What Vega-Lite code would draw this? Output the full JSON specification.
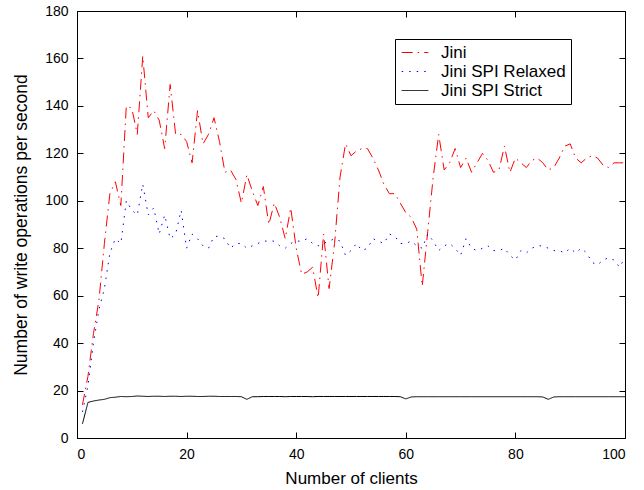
{
"$schema": "https://vega.github.io/schema/vega-lite/v6.json",
"width": 548, "height": 427,
"autosize": {"type": "none"},
"padding": {"left": 77, "top": 11, "right": 19, "bottom": 52},
"background": "white",
"config": {
  "font": "Liberation Sans",
  "view": {"stroke": null},
  "axis": {"grid": false, "domainColor": "black", "domainWidth": 1, "tickColor": "black", "tickWidth": 1, "tickSize": -6, "labelColor": "black", "labelFontSize": 14, "titleColor": "black", "titleFontWeight": "normal", "labelPadding": 15}
},
"data": {"values": [
{"clients":1,"jini":14,"relaxed":11,"strict":6},
{"clients":2,"jini":26,"relaxed":22,"strict":15},
{"clients":3,"jini":44,"relaxed":40,"strict":15.6},
{"clients":4,"jini":58,"relaxed":54,"strict":16},
{"clients":5,"jini":82,"relaxed":63,"strict":16.3},
{"clients":6,"jini":103,"relaxed":78,"strict":17},
{"clients":7,"jini":108,"relaxed":84,"strict":17.2},
{"clients":8,"jini":98,"relaxed":82,"strict":17.5},
{"clients":9,"jini":140,"relaxed":100,"strict":17.4},
{"clients":10,"jini":139,"relaxed":96,"strict":17.5},
{"clients":11,"jini":128,"relaxed":94,"strict":17.7},
{"clients":12,"jini":161,"relaxed":107,"strict":17.6},
{"clients":13,"jini":135,"relaxed":94,"strict":17.5},
{"clients":14,"jini":138,"relaxed":97,"strict":17.6},
{"clients":15,"jini":134,"relaxed":86,"strict":17.6},
{"clients":16,"jini":122,"relaxed":94,"strict":17.5},
{"clients":17,"jini":149,"relaxed":84,"strict":17.6},
{"clients":18,"jini":128,"relaxed":86,"strict":17.6},
{"clients":19,"jini":128,"relaxed":96,"strict":17.5},
{"clients":20,"jini":125,"relaxed":80,"strict":17.6},
{"clients":21,"jini":116,"relaxed":86,"strict":17.6},
{"clients":22,"jini":138,"relaxed":84,"strict":17.5},
{"clients":23,"jini":124,"relaxed":81,"strict":17.5},
{"clients":24,"jini":128,"relaxed":80,"strict":17.6},
{"clients":25,"jini":135,"relaxed":85,"strict":17.6},
{"clients":26,"jini":125,"relaxed":85,"strict":17.5},
{"clients":27,"jini":112,"relaxed":84,"strict":17.5},
{"clients":28,"jini":113,"relaxed":80,"strict":17.5},
{"clients":29,"jini":109,"relaxed":82,"strict":17.5},
{"clients":30,"jini":99,"relaxed":82,"strict":17.4},
{"clients":31,"jini":111,"relaxed":80,"strict":16.3},
{"clients":32,"jini":104,"relaxed":81,"strict":17.4},
{"clients":33,"jini":98,"relaxed":82,"strict":17.4},
{"clients":34,"jini":106,"relaxed":83,"strict":17.5},
{"clients":35,"jini":90,"relaxed":83,"strict":17.5},
{"clients":36,"jini":99,"relaxed":83,"strict":17.5},
{"clients":37,"jini":93,"relaxed":81,"strict":17.5},
{"clients":38,"jini":84,"relaxed":80,"strict":17.4},
{"clients":39,"jini":97,"relaxed":82,"strict":17.5},
{"clients":40,"jini":80,"relaxed":83,"strict":17.5},
{"clients":41,"jini":69,"relaxed":83,"strict":17.5},
{"clients":42,"jini":70,"relaxed":84,"strict":17.5},
{"clients":43,"jini":72,"relaxed":82,"strict":17.4},
{"clients":44,"jini":59,"relaxed":81,"strict":17.5},
{"clients":45,"jini":86,"relaxed":82,"strict":17.5},
{"clients":46,"jini":63,"relaxed":83,"strict":17.5},
{"clients":47,"jini":82,"relaxed":84,"strict":17.5},
{"clients":48,"jini":110,"relaxed":83,"strict":17.5},
{"clients":49,"jini":124,"relaxed":77,"strict":17.5},
{"clients":50,"jini":119,"relaxed":79,"strict":17.5},
{"clients":51,"jini":121,"relaxed":82,"strict":17.5},
{"clients":52,"jini":122,"relaxed":79,"strict":17.5},
{"clients":53,"jini":122,"relaxed":80,"strict":17.5},
{"clients":54,"jini":118,"relaxed":84,"strict":17.5},
{"clients":55,"jini":113,"relaxed":83,"strict":17.5},
{"clients":56,"jini":107,"relaxed":82,"strict":17.5},
{"clients":57,"jini":103,"relaxed":86,"strict":17.5},
{"clients":58,"jini":103,"relaxed":85,"strict":17.5},
{"clients":59,"jini":99,"relaxed":82,"strict":17.4},
{"clients":60,"jini":95,"relaxed":82,"strict":16.5},
{"clients":61,"jini":93,"relaxed":83,"strict":17.3},
{"clients":62,"jini":88,"relaxed":81,"strict":17.4},
{"clients":63,"jini":64,"relaxed":80,"strict":17.4},
{"clients":64,"jini":87,"relaxed":86,"strict":17.4},
{"clients":65,"jini":110,"relaxed":83,"strict":17.4},
{"clients":66,"jini":128,"relaxed":79,"strict":17.4},
{"clients":67,"jini":113,"relaxed":81,"strict":17.4},
{"clients":68,"jini":116,"relaxed":82,"strict":17.4},
{"clients":69,"jini":122,"relaxed":80,"strict":17.4},
{"clients":70,"jini":114,"relaxed":77,"strict":17.4},
{"clients":71,"jini":118,"relaxed":84,"strict":17.4},
{"clients":72,"jini":112,"relaxed":80,"strict":17.4},
{"clients":73,"jini":116,"relaxed":79,"strict":17.4},
{"clients":74,"jini":120,"relaxed":80,"strict":17.4},
{"clients":75,"jini":117,"relaxed":81,"strict":17.4},
{"clients":76,"jini":112,"relaxed":79,"strict":17.4},
{"clients":77,"jini":113,"relaxed":79,"strict":17.4},
{"clients":78,"jini":123,"relaxed":80,"strict":17.4},
{"clients":79,"jini":112,"relaxed":77,"strict":17.4},
{"clients":80,"jini":118,"relaxed":75,"strict":17.4},
{"clients":81,"jini":116,"relaxed":79,"strict":17.4},
{"clients":82,"jini":114,"relaxed":78,"strict":17.4},
{"clients":83,"jini":117,"relaxed":80,"strict":17.4},
{"clients":84,"jini":118,"relaxed":81,"strict":17.4},
{"clients":85,"jini":116,"relaxed":81,"strict":17.3},
{"clients":86,"jini":113,"relaxed":80,"strict":16.3},
{"clients":87,"jini":114,"relaxed":79,"strict":17.3},
{"clients":88,"jini":118,"relaxed":79,"strict":17.4},
{"clients":89,"jini":123,"relaxed":78,"strict":17.4},
{"clients":90,"jini":124,"relaxed":80,"strict":17.4},
{"clients":91,"jini":118,"relaxed":78,"strict":17.4},
{"clients":92,"jini":116,"relaxed":80,"strict":17.4},
{"clients":93,"jini":118,"relaxed":78,"strict":17.4},
{"clients":94,"jini":119,"relaxed":74,"strict":17.4},
{"clients":95,"jini":118,"relaxed":73,"strict":17.4},
{"clients":96,"jini":115,"relaxed":75,"strict":17.4},
{"clients":97,"jini":114,"relaxed":76,"strict":17.4},
{"clients":98,"jini":116,"relaxed":75,"strict":17.4},
{"clients":99,"jini":116,"relaxed":72,"strict":17.4},
{"clients":100,"jini":116,"relaxed":76,"strict":17.4}
]},
"transform": [{"fold": ["jini", "relaxed", "strict"], "as": ["series", "ops"]}],
"layer": [
  {
    "mark": {"type": "line", "strokeWidth": 1, "clip": true},
    "encoding": {
      "x": {"field": "clients", "type": "quantitative", "scale": {"domain": [0, 100], "nice": false},
            "axis": {"orient": "bottom", "title": "Number of clients", "values": [0,20,40,60,80,100], "titlePadding": 9, "titleFontSize": 17}},
      "y": {"field": "ops", "type": "quantitative", "scale": {"domain": [0, 180], "nice": false},
            "axis": {"orient": "left", "title": "Number of write operations per second", "values": [0,20,40,60,80,100,120,140,160,180], "titlePadding": 14, "titleFontSize": 17.5}},
      "color": {"field": "series", "type": "nominal",
                "scale": {"domain": ["jini", "relaxed", "strict"], "range": ["#ff0000", "#0000ff", "#000000"]},
                "legend": {"orient": "none", "legendX": 318, "legendY": 28, "title": null,
                           "labelExpr": "datum.label == 'jini' ? 'Jini' : datum.label == 'relaxed' ? 'Jini SPI Relaxed' : 'Jini SPI Strict'",
                           "strokeColor": "black", "fillColor": "white", "padding": 5, "symbolType": "M-1.9,0L1.9,0", "symbolSize": 196,
                           "symbolStrokeWidth": 1, "symbolOffset": 6.5, "labelFontSize": 17, "labelColor": "black", "rowPadding": 1, "labelOffset": 17.5, "cornerRadius": 0}},
      "strokeDash": {"field": "series", "type": "nominal",
                     "scale": {"domain": ["jini", "relaxed", "strict"], "range": [[11, 5, 1.5, 5], [1.5, 6], [1, 0]]},
                     "legend": {"orient": "none", "legendX": 318, "legendY": 28, "title": null,
                           "labelExpr": "datum.label == 'jini' ? 'Jini' : datum.label == 'relaxed' ? 'Jini SPI Relaxed' : 'Jini SPI Strict'",
                           "strokeColor": "black", "fillColor": "white", "padding": 5, "symbolType": "M-1.9,0L1.9,0", "symbolSize": 196,
                           "symbolStrokeWidth": 1, "symbolOffset": 6.5, "labelFontSize": 17, "labelColor": "black", "rowPadding": 1, "labelOffset": 17.5, "cornerRadius": 0}}
    }
  },
  {
    "mark": {"type": "line", "opacity": 0},
    "encoding": {
      "x": {"field": "clients", "type": "quantitative", "axis": {"orient": "top", "title": null, "labels": false, "values": [0,20,40,60,80,100]}},
      "y": {"field": "ops", "type": "quantitative", "axis": {"orient": "right", "title": null, "labels": false, "values": [0,20,40,60,80,100,120,140,160,180]}},
      "detail": {"field": "series"}
    }
  }
],
"resolve": {"axis": {"x": "independent", "y": "independent"}}
}
